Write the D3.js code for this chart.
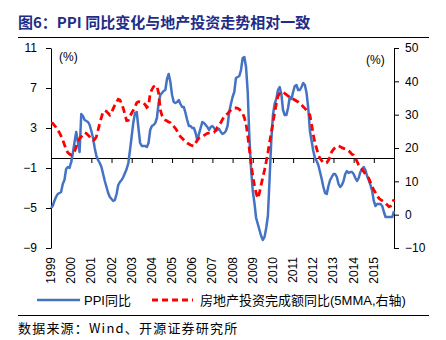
<!DOCTYPE html>
<html>
<head>
<meta charset="utf-8">
<script src="https://d3js.org/d3.v7.min.js"></script>
<style>
  body { margin: 0; background: #fff; }
  svg { font-family: "Liberation Sans", Arial, sans-serif; }
  .axis text { font-size: 12px; fill: #000; }
  .axis path, .axis line { stroke: #000; stroke-width: 1; }
</style>
</head>
<body>
<svg width="446" height="340"></svg>
<script>
// monthly, Jan 1999 .. Jan 2016
var years = ["1999","2000","2001","2002","2003","2004","2005","2006","2007","2008","2009","2010","2011","2012","2013","2014","2015"];

var ppi = [
  -5.0,-4.8,-4.3,-3.9,-3.6,-3.5,-3.4,-2.6,-2.2,-1.1,-0.9,-1.0,
  -0.4,0.5,1.6,2.6,1.6,0.6,4.4,4.2,3.8,3.7,3.6,3.3,
  2.7,2.0,1.0,0.2,-0.2,-0.5,-0.9,-1.6,-2.3,-2.9,-3.5,-3.9,
  -4.1,-4.3,-4.2,-3.6,-2.7,-2.4,-2.2,-1.9,-1.5,-1.1,-0.5,0.8,
  2.2,3.6,4.5,4.6,3.0,1.5,1.2,1.2,1.2,1.1,1.5,2.8,
  3.2,3.3,3.5,4.0,5.5,6.3,6.5,6.7,6.8,7.9,8.4,7.6,
  6.3,5.6,5.5,5.6,5.8,5.4,5.1,5.1,4.5,3.8,3.2,3.2,
  3.0,3.0,2.5,1.8,2.4,3.0,3.6,3.5,3.3,3.1,2.8,3.1,
  3.2,3.0,2.7,2.8,2.9,2.6,2.4,2.5,2.7,3.2,4.6,5.4,
  6.1,6.6,8.0,8.1,8.2,8.8,10.0,10.1,9.1,6.6,2.0,-1.1,
  -3.3,-4.5,-6.0,-6.6,-7.2,-7.8,-8.2,-7.9,-7.0,-5.8,-2.1,1.7,
  4.3,5.4,5.9,6.8,7.1,6.4,4.8,4.3,4.3,5.0,6.1,5.9,
  6.6,7.2,7.3,6.8,6.8,7.1,7.5,7.3,6.5,5.0,2.7,1.7,
  0.7,0.0,-0.3,-0.7,-1.4,-2.1,-2.9,-3.5,-3.6,-2.8,-2.2,-1.9,
  -1.6,-1.6,-1.9,-2.6,-2.9,-2.7,-2.3,-1.6,-1.3,-1.5,-1.4,-1.4,
  -1.6,-2.0,-2.3,-2.0,-1.4,-1.1,-0.9,-1.2,-1.8,-2.2,-2.7,-3.3,
  -4.3,-4.8,-4.6,-4.6,-4.6,-4.8,-5.4,-5.9,-5.9,-5.9,-5.9,-5.9,
  -5.3
];

var realEstate = [
  27.5,27.4,26.8,26.2,25.4,24.6,23.6,22.4,21.0,19.6,18.6,18.2,
  17.9,18.2,18.9,20.4,21.9,22.8,23.4,24.1,24.6,24.4,23.9,23.4,
  22.9,22.4,22.6,23.4,25.4,27.4,29.2,30.9,31.2,31.0,30.4,29.9,
  30.6,31.8,32.9,33.8,34.6,34.4,33.2,31.9,30.0,28.2,28.3,29.6,
  30.5,31.4,32.4,33.6,33.9,33.8,33.6,33.5,33.0,32.2,32.6,36.4,
  37.5,38.4,38.7,38.6,36.5,31.5,29.8,29.1,28.4,28.1,27.8,27.6,
  27.0,26.5,25.9,25.1,24.2,23.4,22.9,22.4,21.9,21.5,21.2,20.9,
  20.7,20.6,21.5,22.4,23.0,23.3,23.5,23.8,24.1,24.4,24.5,24.6,
  24.6,24.7,25.4,26.2,26.9,27.6,28.6,29.4,29.8,30.3,30.9,31.4,
  31.8,32.0,32.0,31.9,31.6,31.0,30.4,29.1,27.2,23.8,19.5,15.2,
  11.6,8.8,6.5,4.9,6.6,9.0,11.2,13.4,15.9,18.6,21.7,24.6,
  27.5,30.6,33.2,35.5,36.4,36.9,36.7,36.4,36.0,35.6,35.2,34.9,
  34.7,34.4,34.1,33.8,33.4,32.9,32.4,31.9,31.3,30.7,29.8,27.0,
  24.0,21.5,19.8,17.9,16.9,16.2,15.6,15.5,15.6,16.3,17.4,18.9,
  19.6,20.1,20.5,20.6,20.4,20.1,19.9,19.7,19.4,19.1,18.7,18.1,
  17.9,17.0,16.0,14.9,14.2,13.6,12.9,12.2,11.6,10.9,9.7,8.5,
  7.4,6.6,5.7,4.9,4.5,4.2,3.9,3.4,2.9,2.4,2.6,3.4,
  4.6
];

var leftTicks = [-9,-5,-1,3,7,11];
var rightTicks = [-10,0,10,20,30,40,50];

var svg = d3.select("svg");
var x = d3.scaleLinear().domain([0, ppi.length - 1]).range([51, 394]);
var yL = d3.scaleLinear().domain([-9, 11]).range([248, 48]);
var yR = d3.scaleLinear().domain([-10, 50]).range([248, 48]);

// title
svg.append("text").attr("x", 18).attr("y", 28)
  .style("font-family", "'Noto Sans CJK SC', sans-serif")
  .style("font-size", "15px").style("font-weight", "bold")
  .style("fill", "#1f2d86")
  .text("图6：PPI 同比变化与地产投资走势相对一致");
svg.append("line").attr("x1", 18).attr("x2", 429).attr("y1", 37.5).attr("y2", 37.5)
  .attr("stroke", "#000").attr("stroke-width", 1);

// axes
svg.append("g").attr("class", "axis").attr("transform", "translate(51,0)")
  .call(d3.axisLeft(yL).tickValues(leftTicks).tickSize(5).tickSizeOuter(0).tickPadding(9));
svg.append("g").attr("class", "axis").attr("transform", "translate(394,0)")
  .call(d3.axisRight(yR).tickValues(rightTicks).tickSize(5).tickSizeOuter(0).tickPadding(6));

var yearIdx = years.map(function(d, i) { return i * 12; });
svg.append("g").attr("class", "axis").attr("transform", "translate(0," + yL(0) + ")")
  .call(d3.axisBottom(x).tickValues(yearIdx).tickSize(5).tickSizeOuter(0).tickFormat(""));

svg.append("g").selectAll("text").data(years).enter().append("text")
  .attr("transform", function(d, i) { return "translate(" + (x(i * 12) + 4) + ",257) rotate(-90)"; })
  .attr("text-anchor", "end")
  .style("font-size", "12px")
  .text(function(d) { return d; });

svg.append("text").attr("x", 59).attr("y", 61).style("font-size", "12px").text("(%)");
svg.append("text").attr("x", 366).attr("y", 64).style("font-size", "12px").text("(%)");

// series
var lineL = d3.line().x(function(d, i) { return x(i); }).y(function(d) { return yL(d); });
var lineR = d3.line().x(function(d, i) { return x(i); }).y(function(d) { return yR(d); });

svg.append("path").datum(ppi).attr("d", lineL)
  .attr("fill", "none").attr("stroke", "#4472c4").attr("stroke-width", 2.5)
  .attr("stroke-linejoin", "round");
svg.append("path").datum(realEstate).attr("d", lineR)
  .attr("fill", "none").attr("stroke", "#ff0000").attr("stroke-width", 2.8)
  .attr("stroke-dasharray", "7,4");

// legend
var lg = svg.append("g");
lg.append("line").attr("x1", 37).attr("x2", 80).attr("y1", 300).attr("y2", 300)
  .attr("stroke", "#4472c4").attr("stroke-width", 2.5);
lg.append("text").attr("x", 84).attr("y", 304.5).style("font-size", "13px")
  .style("font-family", "'Liberation Sans', 'Noto Sans CJK SC', sans-serif")
  .text("PPI同比");
lg.append("line").attr("x1", 152).attr("x2", 193).attr("y1", 300).attr("y2", 300)
  .attr("stroke", "#ff0000").attr("stroke-width", 2.8).attr("stroke-dasharray", "6,4");
lg.append("text").attr("x", 200).attr("y", 304.5).style("font-size", "13px")
  .style("font-family", "'Liberation Sans', 'Noto Sans CJK SC', sans-serif")
  .text("房地产投资完成额同比(5MMA,右轴)");

// source
svg.append("line").attr("x1", 18).attr("x2", 429).attr("y1", 315.5).attr("y2", 315.5)
  .attr("stroke", "#000").attr("stroke-width", 1);
svg.append("text").attr("x", 18).attr("y", 333)
  .style("font-family", "'Noto Sans CJK SC', sans-serif").style("font-size", "13px")
  .style("letter-spacing", "1.2px")
  .text("数据来源：Wind、开源证券研究所");
</script>
</body>
</html>
